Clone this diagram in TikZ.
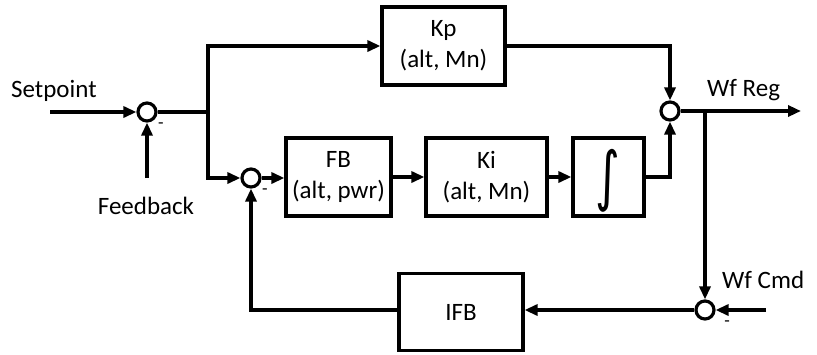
\documentclass[tikz,border=0pt]{standalone}
\usepackage{fontspec}
\setmainfont{Carlito}
\newfontfamily\symfont{DejaVu Sans}
\usetikzlibrary{arrows.meta}
\tikzset{
  sig/.style={line width=3.2pt, -{Triangle[length=13pt,width=11pt]}},
  wire/.style={line width=3.2pt},
  blk/.style={draw, line width=3.2pt, minimum width=#1, align=center, inner sep=0pt, font=\fontsize{25}{31}\selectfont},
  sumc/.style={draw, circle, line width=3.2pt, minimum size=18pt, inner sep=0pt, fill=white},
  lbl/.style={font=\fontsize{25}{30}\selectfont, inner sep=0pt},
  mns/.style={font=\fontsize{18}{18}\selectfont, inner sep=0pt}
}
\begin{document}
\begin{tikzpicture}[x=1pt,y=-1pt]
\useasboundingbox (0,0) rectangle (817,354);
% summing junctions
\node[sumc] (s1) at (147,112) {};
\node[sumc] (s2) at (251,178) {};
\node[sumc] (s3) at (670,111) {};
\node[sumc] (s4) at (705,310) {};
% blocks
\node[blk=123pt, minimum height=78pt] (kp) at (443.5,46) {Kp\\(alt, Mn)};
\node[blk=105pt, minimum height=78pt] (fb) at (338.5,177) {FB\\(alt, pwr)};
\node[blk=121pt, minimum height=78pt] (ki) at (486.5,177) {Ki\\(alt, Mn)};
\node[blk=71pt, minimum height=78pt] (intg) at (608.5,177) {};
\node[inner sep=0pt, font=\symfont\fontsize{50}{50}\selectfont, yscale=1.3, xscale=0.95] (intgsym) at (608,181) {∫};
\node[blk=124pt, minimum height=77pt] (ifb) at (461,312) {IFB};
% labels
\node[lbl, anchor=west] (tsp) at (11,91) {Setpoint};
\node[lbl] (tfb) at (146,206) {Feedback};
\node[lbl, anchor=west] (twr) at (707,90) {Wf Reg};
\node[lbl, anchor=west] (twc) at (722,280) {Wf Cmd};
\node[mns] (m1) at (161,126) {-};
\node[mns] (m2) at (265,192) {-};
\node[mns] (m4) at (727,324) {-};
% coordinates
\coordinate (in1) at (50,112);
\coordinate (in2) at (147,178);
\coordinate (j1) at (208,112);
\coordinate (j2) at (705,111);
\coordinate (out) at (801,111);
\coordinate (in4) at (766,310);
% connectors
\draw[sig] (in1) -- (s1.west);
\draw[sig] (in2) -- (s1.south);
\draw[wire] (s1.east) -- (j1);
\draw[sig] (j1) |- (kp.west);
\draw[sig] (j1) |- (s2.west);
\draw[sig] (s2.east) -- (s2.east -| fb.west);
\draw[sig] (fb.east) -- (ki.west);
\draw[sig] (ki.east) -- (intg.west);
\draw[sig] (intg.east) -| (s3.south);
\draw[sig] (kp.east) -| (s3.north);
\draw[sig] (s3.east) -- (out);
\draw[sig] (j2) -- (s4.north);
\draw[sig] (in4) -- (s4.east);
\draw[sig] (s4.west) -- (s4.west -| ifb.east);
\draw[sig] (ifb.west |- s4.west) -| (s2.south);
\end{tikzpicture}
\end{document}
